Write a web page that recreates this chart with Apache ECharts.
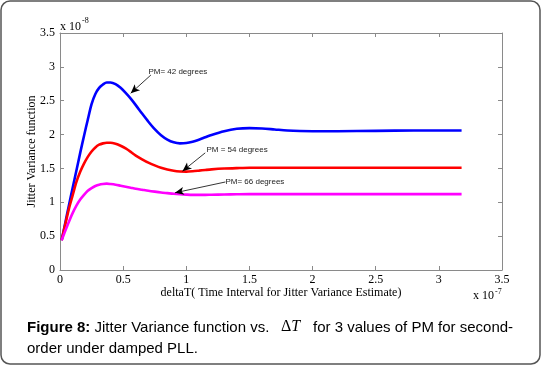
<!DOCTYPE html>
<html><head><meta charset="utf-8">
<script src="https://cdn.jsdelivr.net/npm/echarts@6/dist/echarts.min.js"></script>
<style>html,body{margin:0;padding:0;background:#fff}#c{width:542px;height:366px}</style>
</head><body><div id="c"></div>
<script>
// deltaT in units of 1e-7
const xs = [0.013,0.04,0.07,0.1,0.13,0.16,0.19,0.22,0.25,0.28,0.31,0.34,0.37,0.4,0.44,0.48,0.52,0.56,0.6,0.65,0.7,0.75,0.8,0.85,0.9,0.95,1.0,1.05,1.1,1.15,1.2,1.3,1.4,1.5,1.6,1.7,1.8,1.9,2.0,2.2,2.5,2.8,3.0,3.18];
// jitter variance in units of 1e-8
const pm42 = [0.44,0.68,0.95,1.21,1.47,1.73,1.98,2.22,2.45,2.60,2.69,2.74,2.77,2.77,2.745,2.69,2.615,2.53,2.435,2.31,2.19,2.08,1.99,1.925,1.885,1.87,1.875,1.895,1.925,1.96,1.995,2.05,2.085,2.095,2.09,2.075,2.06,2.052,2.05,2.05,2.055,2.06,2.06,2.06];
const pm54 = [0.44,0.66,0.90,1.10,1.30,1.45,1.57,1.67,1.75,1.81,1.85,1.87,1.88,1.88,1.865,1.835,1.795,1.745,1.69,1.635,1.585,1.545,1.51,1.485,1.465,1.455,1.453,1.458,1.467,1.477,1.486,1.498,1.505,1.51,1.51,1.51,1.51,1.51,1.51,1.51,1.51,1.51,1.51,1.51];
const pm66 = [0.44,0.57,0.71,0.84,0.95,1.04,1.11,1.17,1.21,1.24,1.26,1.27,1.275,1.27,1.26,1.245,1.23,1.215,1.20,1.185,1.17,1.157,1.145,1.135,1.125,1.118,1.113,1.11,1.11,1.11,1.112,1.115,1.118,1.12,1.12,1.12,1.12,1.12,1.12,1.12,1.12,1.12,1.12,1.12];
const ticks = [0,0.5,1,1.5,2,2.5,3,3.5];
const notes = [
  {text:'PM= 42 degrees', at:[0.70,2.92], from:[0.72,2.88], to:[0.56,2.61]},
  {text:'PM = 54 degrees', at:[1.16,1.78], from:[1.15,1.73], to:[0.97,1.46]},
  {text:'PM= 66 degrees', at:[1.31,1.30], from:[1.31,1.30], to:[0.91,1.14]}
];
const colors = ['#0000ff','#ff0000','#ff00ff'];
const seriesY = [pm42, pm54, pm66];

const chart = echarts.init(document.getElementById('c'));
const axisCol = '#8a8a8a';
const fmt = v => String(v);
const tickFont = {fontFamily:'Liberation Serif', fontSize:12, color:'#000'};
const line = {onZero:false, lineStyle:{color:axisCol}};
const tick = {inside:true, length:4, lineStyle:{color:axisCol}};
const series = seriesY.map((ys,i)=>({
  type:'line', xAxisIndex:0, yAxisIndex:0, data: xs.map((x,j)=>[x, ys[j]]), smooth:0.3, symbol:'none',
  lineStyle:{color:colors[i], width:2.6}, z:3,
  markLine:{silent:true, symbol:['none','arrow'], symbolSize:[6,9],
    lineStyle:{color:'#000', width:0.8, type:'solid'}, label:{show:false},
    data:[[{coord:notes[i].from},{coord:notes[i].to}]]},
  markPoint:{silent:true, symbol:'circle', symbolSize:0,
    data:[{coord:notes[i].at, label:{show:true, position:'right', distance:0, formatter:notes[i].text,
      fontFamily:'Liberation Sans', fontSize:8, color:'#222'}}]}
}));
const cap = {fontFamily:'Liberation Sans', fontSize:15, fill:'#000'};
chart.setOption({
  animation:false,
  grid:{left:60, right:40, top:33, bottom:96},
  xAxis:[{type:'value', min:0, max:3.5, interval:0.5,
    axisLine:line, axisTick:tick,
    splitLine:{show:false}, axisLabel:Object.assign({formatter:fmt, margin:4}, tickFont),
    name:'deltaT( Time Interval for Jitter Variance Estimate)', nameLocation:'middle', nameGap:17, nameMoveOverlap:false,
    nameTextStyle:{fontFamily:'Liberation Serif', fontSize:12, color:'#000'}},
   {type:'value', position:'top', min:0, max:3.5, interval:0.5,
    axisLine:line, axisTick:tick, splitLine:{show:false}, axisLabel:{show:false}}],
  yAxis:[{type:'value', min:0, max:3.5, interval:0.5,
    axisLine:line, axisTick:tick,
    splitLine:{show:false}, axisLabel:Object.assign({formatter:fmt, margin:5}, tickFont),
    name:'Jitter Variance function', nameLocation:'middle', nameGap:22, nameRotate:90, nameMoveOverlap:false,
    nameTextStyle:{fontFamily:'Liberation Serif', fontSize:12, color:'#000'}},
   {type:'value', position:'right', min:0, max:3.5, interval:0.5,
    axisLine:line, axisTick:tick, splitLine:{show:false}, axisLabel:{show:false}}],
  series: series,
  graphic:[
    {type:'rect', shape:{x:1, y:1, width:539, height:363, r:9}, style:{fill:'none', stroke:'#555', lineWidth:1.5}, z:-1},
    {type:'text', left:60, top:17, style:{text:'{a|x 10}{s|-8}', rich:{a:{fontFamily:'Liberation Serif', fontSize:12, fill:'#000', verticalAlign:'bottom'}, s:{fontFamily:'Liberation Serif', fontSize:8, fill:'#000', verticalAlign:'top', padding:[0,0,8,1]}}}},
    {type:'text', left:473, top:288, style:{text:'{a|x 10}{s|-7}', rich:{a:{fontFamily:'Liberation Serif', fontSize:12, fill:'#000'}, s:{fontFamily:'Liberation Serif', fontSize:8, fill:'#000', padding:[0,0,8,1]}}}},
    {type:'text', left:27, top:320, style:{text:'{b|Figure 8:}{n| Jitter Variance function vs.}',
      rich:{b:Object.assign({fontWeight:'bold'}, cap), n:cap}}},
    {type:'text', left:281, top:319, style:{text:'{u|Δ}{i|T}', rich:{
      u:{fontFamily:'Liberation Serif', fontSize:16, fill:'#000'},
      i:{fontFamily:'Liberation Serif', fontStyle:'italic', fontSize:16, fill:'#000'}}}},
    {type:'text', left:313, top:320, style:Object.assign({text:'for 3 values of PM for second-'}, cap)},
    {type:'text', left:27, top:341, style:Object.assign({text:'order under damped PLL.'}, cap)}
  ]
});
</script></body></html>
